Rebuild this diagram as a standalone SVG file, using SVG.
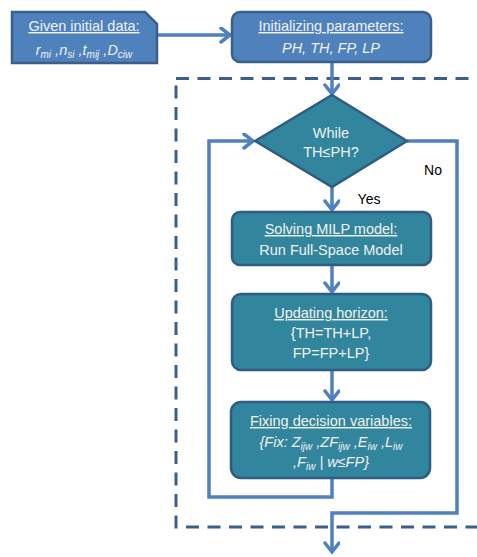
<svg xmlns="http://www.w3.org/2000/svg" width="477" height="557" viewBox="0 0 477 557">
<defs>
<style>
.blue{fill:#4F81BD;stroke:#3A5F8B;stroke-width:2.5}
.teal{fill:#31859C;stroke:#2F5B84;stroke-width:2.5}
.t{font-family:"Liberation Sans",Arial,sans-serif;font-size:14.5px;fill:#F2F2F2;text-anchor:middle}
.u{text-decoration:underline}
.i{font-style:italic}
.lbl{font-family:"Liberation Sans",Arial,sans-serif;font-size:14px;fill:#000;text-anchor:middle}
.c{fill:none;stroke:#4F81BD;stroke-width:3.5;stroke-linejoin:miter}
.dash{fill:none;stroke:#3A5F8B;stroke-width:3;stroke-dasharray:13 8.5}
</style>
<marker id="ah" markerUnits="userSpaceOnUse" markerWidth="16" markerHeight="20" refX="11" refY="8" orient="auto" viewBox="0 0 16 20">
<path d="M2,1 L11,8 L2,15" fill="none" stroke="#4F81BD" stroke-width="3.5" stroke-linecap="round"/>
</marker>
</defs>
<rect class="dash" x="176" y="78.5" width="400" height="448.5"/>
<g id="connectors">
<path class="c" d="M157,35 H230" marker-end="url(#ah)"/>
<path class="c" d="M332,62 V94" marker-end="url(#ah)"/>
<path class="c" d="M332,187 V210" marker-end="url(#ah)"/>
<path class="c" d="M332,265 V292" marker-end="url(#ah)"/>
<path class="c" d="M332,370 V400" marker-end="url(#ah)"/>
<path class="c" d="M332,478 V497 H209 V141 H253" marker-end="url(#ah)"/>
<path class="c" d="M407,141 H457 V513 H332 V552" marker-end="url(#ah)"/>
<text class="lbl" x="369" y="204">Yes</text>
<text class="lbl" x="433" y="175">No</text>
</g>
<g id="given">
<path class="blue" d="M12,12 H145 L157,24 V63 H12 Z"/>
<text class="t u" x="84" y="31">Given initial data:</text>
<text class="t i" x="84" y="55">r<tspan font-size="10" dy="3">mi</tspan><tspan dy="-3"> ,n</tspan><tspan font-size="10" dy="3">si</tspan><tspan dy="-3"> ,t</tspan><tspan font-size="10" dy="3">mij</tspan><tspan dy="-3"> ,D</tspan><tspan font-size="10" dy="3">ciw</tspan></text>
</g>
<g id="init">
<rect class="blue" x="232" y="12" width="199" height="50" rx="8"/>
<text class="t u" x="331" y="31">Initializing parameters:</text>
<text class="t i" x="331" y="53">PH, TH, FP, LP</text>
</g>
<g id="while">
<path class="teal" d="M332,95 L407,141 L332,187 L255,141 Z"/>
<text class="t" x="331" y="138">While</text>
<text class="t" x="331" y="157">TH≤PH?</text>
</g>
<g id="solve">
<rect class="teal" x="232" y="212" width="199" height="53" rx="8"/>
<text class="t u" x="331" y="234">Solving MILP model:</text>
<text class="t" x="331" y="255">Run Full-Space Model</text>
</g>
<g id="update">
<rect class="teal" x="232" y="294" width="199" height="76" rx="9"/>
<text class="t u" x="331" y="318">Updating horizon:</text>
<text class="t" x="331" y="338">{TH=TH+LP,</text>
<text class="t" x="331" y="358">FP=FP+LP}</text>
</g>
<g id="fix">
<rect class="teal" x="231" y="402" width="199" height="76" rx="10"/>
<text class="t u" x="331" y="426">Fixing decision variables:</text>
<text class="t i" x="331" y="447">{Fix: Z<tspan font-size="10" dy="3">ijw</tspan><tspan dy="-3"> ,ZF</tspan><tspan font-size="10" dy="3">ijw</tspan><tspan dy="-3"> ,E</tspan><tspan font-size="10" dy="3">iw</tspan><tspan dy="-3">  ,L</tspan><tspan font-size="10" dy="3">iw</tspan></text>
<text class="t i" x="331" y="467">,F<tspan font-size="10" dy="3">iw</tspan><tspan dy="-3"> | w≤FP}</tspan></text>
</g>
</svg>
